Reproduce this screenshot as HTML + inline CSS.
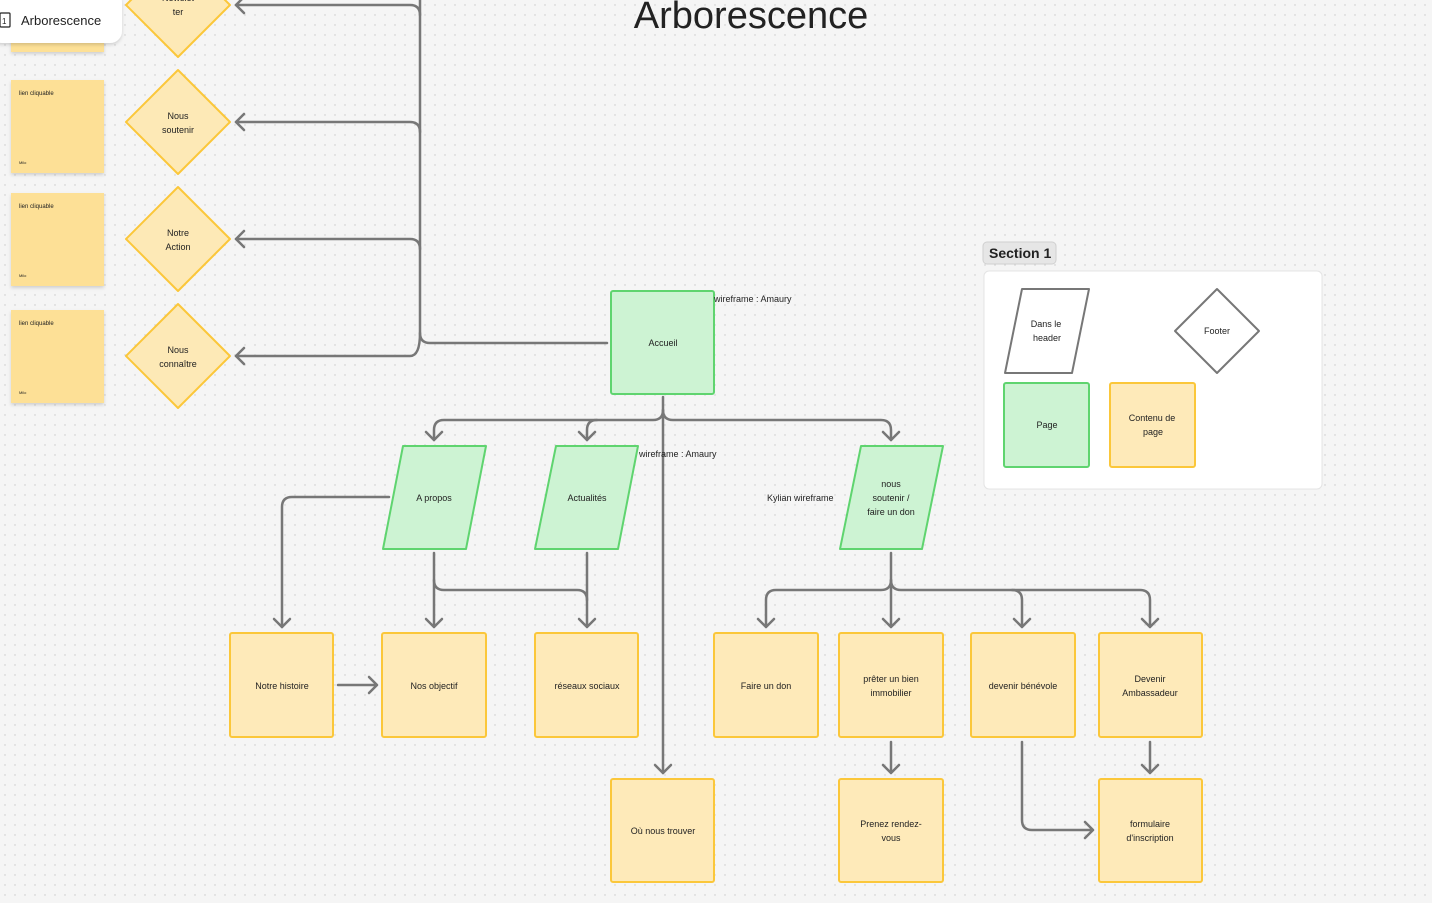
<!DOCTYPE html>
<html><head><meta charset="utf-8"><style>
html,body{margin:0;padding:0;width:1432px;height:903px;overflow:hidden;background:#f5f5f5}
svg{display:block}
text{font-family:"Liberation Sans",sans-serif;fill:#222}
</style></head><body>
<svg width="1432" height="903" viewBox="0 0 1432 903">
<defs>
<pattern id="dots" width="10" height="10" patternUnits="userSpaceOnUse"><circle cx="5" cy="5" r="0.7" fill="#c8c8c8"/></pattern>
<filter id="sh" x="-10%" y="-10%" width="130%" height="130%"><feDropShadow dx="0" dy="2" stdDeviation="1.5" flood-opacity="0.15"/></filter>
</defs>
<rect width="1432" height="903" fill="url(#dots)"/>

<!-- sticky notes -->
<g filter="url(#sh)" fill="#fde096">
<rect x="11" y="0" width="93" height="52"/>
<rect x="11" y="80" width="93" height="93"/>
<rect x="11" y="193" width="93" height="93"/>
<rect x="11" y="310" width="93" height="93"/>
</g>
<g font-size="6">
<text x="19" y="95">lien cliquable</text><text x="19" y="164" fill="#888" font-size="4">Milo</text>
<text x="19" y="208">lien cliquable</text><text x="19" y="277" fill="#888" font-size="4">Milo</text>
<text x="19" y="325">lien cliquable</text><text x="19" y="394" fill="#888" font-size="4">Milo</text>
</g>

<!-- label card -->
<rect x="-10" y="-10" width="132" height="53" rx="12" fill="#fff" filter="url(#sh)"/>
<rect x="0" y="13" width="10" height="14" fill="none" stroke="#222" stroke-width="1.2" rx="1"/>
<text x="2" y="24" font-size="8">1</text>
<text x="21" y="25" font-size="13">Arborescence</text>

<text x="751" y="28" font-size="38" text-anchor="middle">Arborescence</text>

<!-- diamonds -->
<g fill="#fde9b6" stroke="#fbc73a" stroke-width="2" stroke-linejoin="round">
<polygon points="178,-47 230,5 178,57 126,5"/>
<polygon points="178,70 230,122 178,174 126,122"/>
<polygon points="178,187 230,239 178,291 126,239"/>
<polygon points="178,304 230,356 178,408 126,356"/>
</g>
<g font-size="9" text-anchor="middle">
<text x="178" y="1">Newslet</text><text x="178" y="15">ter</text>
<text x="178" y="119">Nous</text><text x="178" y="133">soutenir</text>
<text x="178" y="236">Notre</text><text x="178" y="250">Action</text>
<text x="178" y="353">Nous</text><text x="178" y="367">connaître</text>
</g>

<!-- connectors -->
<g fill="none" stroke="#777" stroke-width="2.5" stroke-linecap="round" stroke-linejoin="round">
<path d="M420,0 V333 Q420,343 430,343 H607"/>
<path d="M420,15 Q420,5 410,5 H236"/>
<path d="M420,132 Q420,122 410,122 H236"/>
<path d="M420,249 Q420,239 410,239 H236"/>
<path d="M420,333 Q420,356 410,356 H236"/>
<path d="M244,-3 L236,5 L244,13 M244,114 L236,122 L244,130 M244,231 L236,239 L244,247 M244,348 L236,356 L244,364"/>
<!-- Accueil down -->
<path d="M663,397 V773"/>
<path d="M655,765 L663,773 L671,765"/>
<path d="M663,410 Q663,420 653,420 H444 Q434,420 434,430 V440"/>
<path d="M597,420 Q587,420 587,430 V440"/>
<path d="M663,410 Q663,420 673,420 H881 Q891,420 891,430 V440"/>
<path d="M426,432 L434,440 L442,432 M579,432 L587,440 L595,432 M883,432 L891,440 L899,432"/>
<!-- A propos -->
<path d="M389,497 H292 Q282,497 282,507 V627"/>
<path d="M274,619 L282,627 L290,619"/>
<path d="M434,553 V627 M426,619 L434,627 L442,619"/>
<path d="M434,580 Q434,590 444,590 H577 Q587,590 587,600"/>
<path d="M587,553 V627 M579,619 L587,627 L595,619"/>
<path d="M338,685 H377 M369,677 L377,685 L369,693"/>
<!-- nous soutenir -->
<path d="M891,553 V627 M883,619 L891,627 L899,619"/>
<path d="M891,580 Q891,590 881,590 H776 Q766,590 766,600 V627 M758,619 L766,627 L774,619"/>
<path d="M891,580 Q891,590 901,590 H1012 Q1022,590 1022,600 V627 M1014,619 L1022,627 L1030,619"/>
<path d="M1012,590 H1140 Q1150,590 1150,600 V627 M1142,619 L1150,627 L1158,619"/>
<path d="M891,742 V773 M883,765 L891,773 L899,765"/>
<path d="M1150,742 V773 M1142,765 L1150,773 L1158,765"/>
<path d="M1022,742 V820 Q1022,830 1032,830 H1093 M1085,822 L1093,830 L1085,838"/>
</g>

<!-- green nodes -->
<g fill="#cdf3d3" stroke="#5fd46f" stroke-width="2" stroke-linejoin="round">
<rect x="611" y="291" width="103" height="103" rx="2"/>
<polygon points="403,446 486,446 466,549 383,549"/>
<polygon points="556,446 638,446 618,549 535,549"/>
<polygon points="861,446 943,446 922,549 840,549"/>
</g>
<g font-size="9" text-anchor="middle">
<text x="663" y="346">Accueil</text>
<text x="434" y="501">A propos</text>
<text x="587" y="501">Actualités</text>
<text x="891" y="487">nous</text><text x="891" y="501">soutenir /</text><text x="891" y="515">faire un don</text>
</g>
<g font-size="9">
<text x="714" y="302">wireframe : Amaury</text>
<text x="639" y="457">wireframe : Amaury</text>
<text x="767" y="501">Kylian wireframe</text>
</g>

<!-- yellow boxes -->
<g fill="#feeab9" stroke="#fbc73a" stroke-width="2">
<rect x="230" y="633" width="103" height="104" rx="2"/>
<rect x="382" y="633" width="104" height="104" rx="2"/>
<rect x="535" y="633" width="103" height="104" rx="2"/>
<rect x="714" y="633" width="104" height="104" rx="2"/>
<rect x="839" y="633" width="104" height="104" rx="2"/>
<rect x="971" y="633" width="104" height="104" rx="2"/>
<rect x="1099" y="633" width="103" height="104" rx="2"/>
<rect x="611" y="779" width="103" height="103" rx="2"/>
<rect x="839" y="779" width="104" height="103" rx="2"/>
<rect x="1099" y="779" width="103" height="103" rx="2"/>
</g>
<g font-size="9" text-anchor="middle">
<text x="282" y="689">Notre histoire</text>
<text x="434" y="689">Nos objectif</text>
<text x="587" y="689">réseaux sociaux</text>
<text x="766" y="689">Faire un don</text>
<text x="891" y="682">prêter un bien</text><text x="891" y="696">immobilier</text>
<text x="1023" y="689">devenir bénévole</text>
<text x="1150" y="682">Devenir</text><text x="1150" y="696">Ambassadeur</text>
<text x="663" y="834">Où nous trouver</text>
<text x="891" y="827">Prenez rendez-</text><text x="891" y="841">vous</text>
<text x="1150" y="827">formulaire</text><text x="1150" y="841">d'inscription</text>
</g>

<!-- section -->
<rect x="983" y="242" width="73" height="22" rx="4" fill="#e6e6e6" stroke="#d0d0d0"/>
<text x="989" y="258" font-size="14" font-weight="bold" fill="#222">Section 1</text>
<rect x="984" y="271" width="338" height="218" rx="5" fill="#fff" stroke="#e4e4e4"/>
<polygon points="1022,289 1089,289 1072,373 1005,373" fill="#fff" stroke="#777" stroke-width="2" stroke-linejoin="round"/>
<polygon points="1217,289 1259,331 1217,373 1175,331" fill="#fff" stroke="#777" stroke-width="2" stroke-linejoin="round"/>
<rect x="1004" y="383" width="85" height="84" rx="2" fill="#cdf3d3" stroke="#5fd46f" stroke-width="2"/>
<rect x="1110" y="383" width="85" height="84" rx="2" fill="#feeab9" stroke="#fbc73a" stroke-width="2"/>
<g font-size="9" text-anchor="middle">
<text x="1046" y="327">Dans le</text><text x="1047" y="341">header</text>
<text x="1217" y="334">Footer</text>
<text x="1047" y="428">Page</text>
<text x="1152" y="421">Contenu de</text><text x="1153" y="435">page</text>
</g>
</svg>
</body></html>
